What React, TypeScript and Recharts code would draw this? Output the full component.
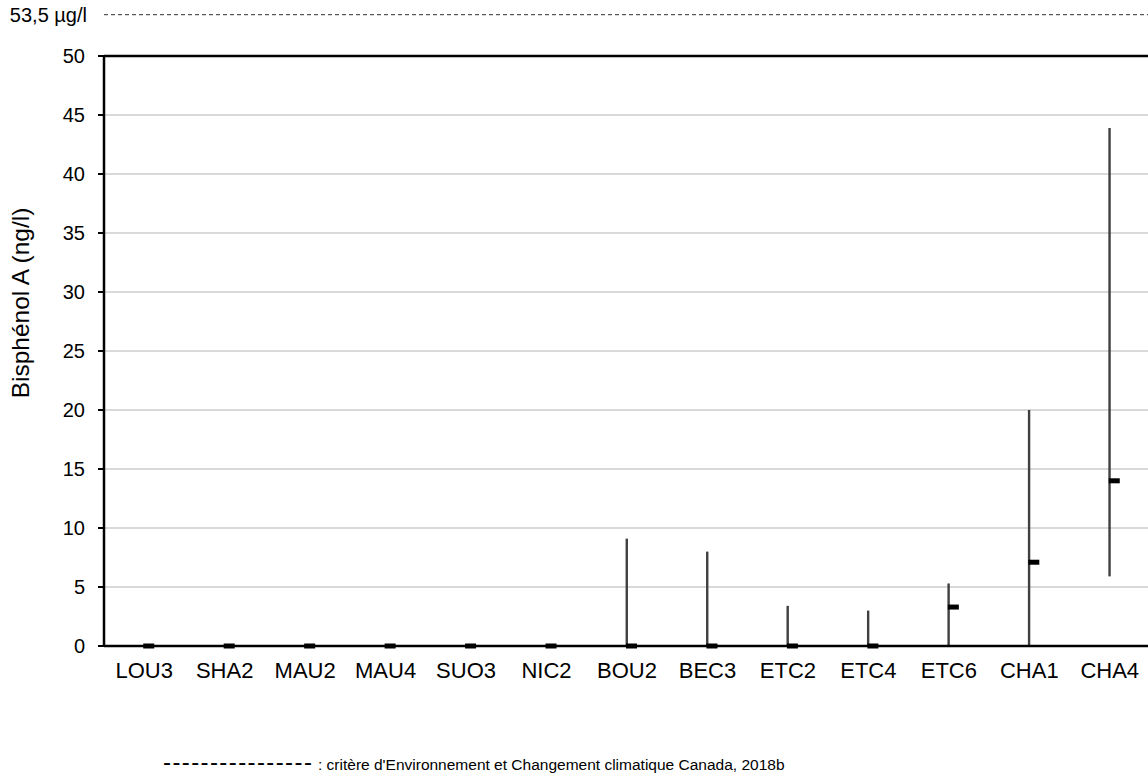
import React from "react";
import {
  ComposedChart,
  Bar,
  Scatter,
  XAxis,
  YAxis,
  CartesianGrid,
  ReferenceLine,
} from "recharts";

// Bisphenol A concentrations per station (ng/l): min–max range and median
const SITES = ["LOU3", "SHA2", "MAU2", "MAU4", "SUO3", "NIC2", "BOU2", "BEC3", "ETC2", "ETC4", "ETC6", "CHA1", "CHA4"];
const MIN_VALUES = [0, 0, 0, 0, 0, 0, 0, 0, 0, 0, 0, 0, 5.9];
const MAX_VALUES = [0, 0, 0, 0, 0, 0, 9.1, 8.0, 3.4, 3.0, 5.3, 20, 43.9];
const MEDIANS = [0, 0, 0, 0, 0, 0, 0, 0, 0, 0, 3.3, 7.1, 14.0];

const Y_TICKS = [0, 5, 10, 15, 20, 25, 30, 35, 40, 45, 50];
const ECCC_CRITERION = 53.5; // shown in the same units as the axis
const CRITERION_LABEL = "53,5 µg/l";
const Y_LABEL = "Bisphénol A (ng/l)";
const LEGEND_DASHES = "----------------";
const LEGEND_TEXT = ": critère d'Environnement et Changement climatique Canada, 2018b";

const FONT = '"Liberation Sans", Arial, sans-serif';

const data = SITES.map((site, i) => ({
  site,
  range: [MIN_VALUES[i], MAX_VALUES[i]],
  median: MEDIANS[i],
}));

// min–max whisker drawn on the band centre
function RangeLine(props: any) {
  const { x, y, width, height } = props;
  if (!height || height <= 0) return null;
  const cx = x + width / 2;
  return <rect x={cx - 1.2} y={y} width={2.4} height={height} fill="#404040" />;
}

function MedianMark({ cx, cy }: { cx?: number; cy?: number }) {
  if (cx == null || cy == null) return null;
  return <rect x={cx - 1} y={cy - 2.5} width={11} height={5} fill="#000" />;
}

export default function App() {
  return (
    <div
      style={{
        position: "absolute",
        left: 0,
        top: 0,
        width: 1148,
        height: 776,
        overflow: "hidden",
        background: "#fff",
        fontFamily: FONT,
      }}
    >
      <ComposedChart
        width={1152}
        height={776}
        data={data}
        margin={{ top: 56, right: 2, bottom: 90, left: 0 }}
      >
        <CartesianGrid vertical={false} stroke="#d9d9d9" strokeWidth={2} />
        <XAxis
          dataKey="site"
          interval={0}
          height={40}
          tickLine={false}
          tickMargin={10}
          axisLine={{ stroke: "#000", strokeWidth: 2.5 }}
          tick={{ fill: "#000", fontSize: 22, fontFamily: FONT }}
        />
        <YAxis
          domain={[0, 50]}
          ticks={Y_TICKS}
          width={104}
          tickSize={6}
          tickMargin={13}
          axisLine={{ stroke: "#000", strokeWidth: 2.5 }}
          tickLine={{ stroke: "#000", strokeWidth: 2 }}
          tick={{ fill: "#000", fontSize: 20, fontFamily: FONT }}
          label={{
            value: Y_LABEL,
            content: () => (
              <text
                transform="translate(20,303) rotate(-90)"
                textAnchor="middle"
                dominantBaseline="central"
                fontSize={24.5}
                fontFamily={FONT}
                fill="#000"
              >
                {Y_LABEL}
              </text>
            ),
          }}
        />
        <ReferenceLine y={50} stroke="#000" strokeWidth={2.5} />
        <ReferenceLine
          y={ECCC_CRITERION}
          ifOverflow="visible"
          stroke="#303030"
          strokeWidth={1}
          strokeDasharray="4 3"
          label={{
            value: CRITERION_LABEL,
            position: "left",
            offset: 17,
            fill: "#000",
            fontSize: 20,
            fontFamily: FONT,
          }}
        />
        <Bar dataKey="range" barSize={4} shape={<RangeLine />} isAnimationActive={false} />
        <Scatter dataKey="median" shape={<MedianMark />} isAnimationActive={false} />
      </ComposedChart>
      <span
        style={{
          position: "absolute",
          left: 163,
          top: 750,
          fontSize: 24,
          letterSpacing: 1.4,
          lineHeight: "24px",
          color: "#000",
          whiteSpace: "nowrap",
        }}
      >
        {LEGEND_DASHES}
      </span>
      <span
        style={{
          position: "absolute",
          left: 318,
          top: 755,
          fontSize: 15.5,
          lineHeight: "20px",
          color: "#000",
          whiteSpace: "nowrap",
        }}
      >
        {LEGEND_TEXT}
      </span>
    </div>
  );
}
